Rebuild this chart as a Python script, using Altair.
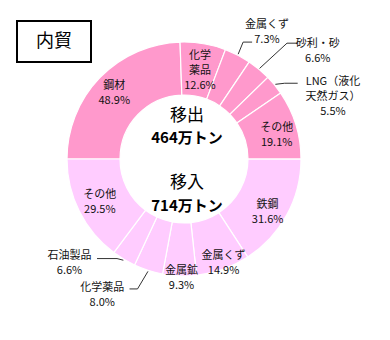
import math
import altair as alt
import pandas as pd

# ---- data ----
out_names = ["鋼材", "化学\n薬品", "金属くず", "砂利・砂", "LNG（液化\n天然ガス）", "その他"]
out_pct = [48.9, 12.6, 7.3, 6.6, 5.5, 19.1]
in_names = ["鉄鋼", "金属くず", "金属鉱", "化学薬品", "石油製品", "その他"]
in_pct = [31.6, 14.9, 9.3, 8.0, 6.6, 29.5]
out_label, in_label = "移出", "移入"
out_total, in_total = 464, 714
title_text = "内貿"

# ---- layout ----
W, H = 368, 318
CX, CY = W / 2, H / 2
R_IN, R_OUT = 64, 117
FONT = "Noto Sans CJK JP"
LH = 15
# per label: (angle offset in degrees from slice middle, radius px)
out_label_layout = [(0, 97), (0.7, 91), (5.5, 153), (10.8, 173), (16.1, 162), (1.9, 96)]
in_label_layout = [(2.9, 98), (-1.5, 110), (-1, 118), (13.6, 157), (17.1, 154), (0.2, 94)]
# leader lines: slice index -> (elbow angle offset, elbow radius, horizontal run)
out_leaders = {2: (-0.5, 131, 9), 3: (1.8, 155, 10), 4: (2.3, 126, 13)}
in_leaders = {3: (1.9, 138, -8), 4: (3.0, 120, -20)}

# ---- build tables ----
rows = []
idx = 0
for half, names, pcts, lay, lead in [
    (out_label, out_names, out_pct, out_label_layout, out_leaders),
    (in_label, in_names, in_pct, in_label_layout, in_leaders),
]:
    for i, (n, p) in enumerate(zip(names, pcts)):
        rows.append(dict(idx=idx, half=half, name=n, pct=p, lay=lay[i], lead=lead.get(i)))
        idx += 1
df = pd.DataFrame(rows)
total = df["pct"].sum()
deg_per = 360.0 / total
cum = df["pct"].cumsum() - df["pct"] / 2
df["mid"] = -90 + cum * deg_per


def polar(a_deg, r):
    a = math.radians(a_deg)
    return CX + r * math.sin(a), CY - r * math.cos(a)


lab_rows, lead_rows = [], []
for _, r in df.iterrows():
    da, rr = r["lay"]
    x, y = polar(r["mid"] + da, rr)
    text = f"{r['name']}\n{r['pct']:.1f}%"
    n_lines = text.count("\n") + 1
    # first line sits at the anchor: shift so the block is centred
    lab_rows.append(dict(x=x, y=y + 2 - (n_lines - 1) * LH / 2, label=text))
    if r["lead"] is not None:
        ea, er, run = r["lead"]
        x0, y0 = polar(r["mid"], R_OUT + 1)
        x1, y1 = polar(r["mid"] + ea, er)
        for k, (px, py) in enumerate([(x0, y0), (x1, y1), (x1 + run, y1)]):
            lead_rows.append(dict(lid=int(r["idx"]), k=k, x=px, y=py))
labels = pd.DataFrame(lab_rows)
leads = pd.DataFrame(lead_rows)
arcs = df[["idx", "half", "name", "pct"]]

center = pd.DataFrame([
    dict(t=out_label, x=CX + 3, y=CY - 43, kind="h"),
    dict(t=f"{out_total}万トン", x=CX + 3, y=CY - 21, kind="v"),
    dict(t=in_label, x=CX + 3, y=CY + 24, kind="h"),
    dict(t=f"{in_total}万トン", x=CX + 3, y=CY + 47, kind="v"),
])

xs = alt.X("x:Q", scale=None, axis=None)
ys = alt.Y("y:Q", scale=None, axis=None)

ring = alt.Chart(arcs).mark_arc(
    innerRadius=R_IN, outerRadius=R_OUT, stroke="white", strokeWidth=1.2
).encode(
    theta=alt.Theta("pct:Q", stack=True, scale=alt.Scale(range=[-math.pi / 2, 3 * math.pi / 2])),
    order=alt.Order("idx:Q"),
    color=alt.Color("half:N", scale=alt.Scale(domain=[out_label, in_label],
                                              range=["#FF99CC", "#FFCCFF"]), legend=None),
)

lead_layer = alt.Chart(leads).mark_line(color="#333333", strokeWidth=1).encode(
    x=xs, y=ys, detail="lid:N", order="k:Q"
)

label_layer = alt.Chart(labels).mark_text(
    font=FONT, fontSize=11, lineHeight=LH, lineBreak="\n", align="center",
    baseline="middle", color="#111111"
).encode(x=xs, y=ys, text="label:N")

center_h = alt.Chart(center[center.kind == "h"]).mark_text(
    font=FONT, fontSize=17, align="center", baseline="middle", color="#000000"
).encode(x=xs, y=ys, text="t:N")
center_v = alt.Chart(center[center.kind == "v"]).mark_text(
    font=FONT, fontSize=15, fontWeight="bold", align="center", baseline="middle", color="#000000"
).encode(x=xs, y=ys, text="t:N")

box = alt.Chart(pd.DataFrame({"a": [0]})).mark_rect(
    fill="white", stroke="black", strokeWidth=2
).encode(x=alt.value(17), x2=alt.value(91), y=alt.value(21), y2=alt.value(62))
box_text = alt.Chart(pd.DataFrame({"t": [title_text]})).mark_text(
    font=FONT, fontSize=18, align="center", baseline="middle", color="#000000"
).encode(x=alt.value(54), y=alt.value(42), text="t:N")

chart = alt.layer(ring, lead_layer, label_layer, center_h, center_v, box, box_text).properties(
    width=W, height=H, padding=0, autosize=alt.AutoSizeParams(type="none"), background="white"
).configure_view(stroke=None)

chart.save("out.html", embed_options={"renderer": "svg", "actions": False})
